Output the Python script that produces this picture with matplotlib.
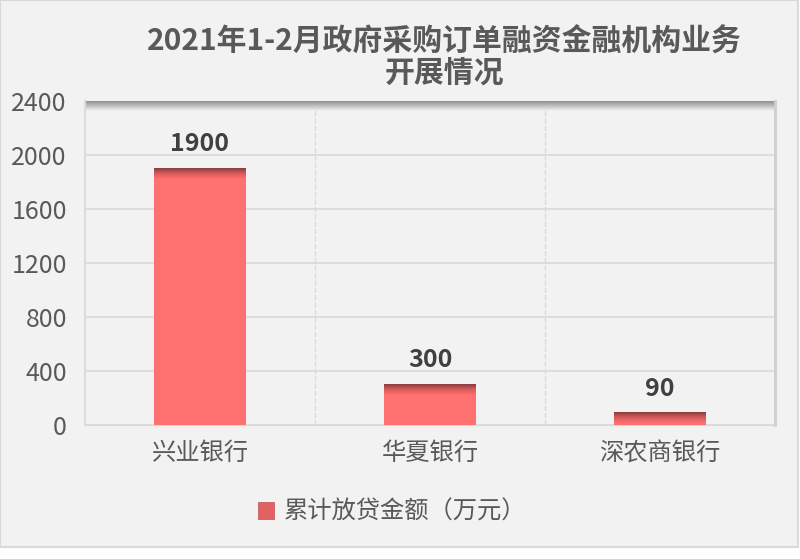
import numpy as np
import matplotlib.pyplot as plt
from matplotlib.patches import Rectangle
from matplotlib.colors import LinearSegmentedColormap

plt.rcParams['font.family'] = ['Noto Sans CJK SC', 'DejaVu Sans']

banks = ['兴业银行', '华夏银行', '深农商银行']
loans = [1900, 300, 90]
series_name = '累计放贷金额（万元）'
title = '2021年1-2月政府采购订单融资金融机构业务\n开展情况'

bg = '#f2f2f2'
bar_color = '#ff7070'
text_color = '#595959'

fig = plt.figure(figsize=(8, 5.59), dpi=100)
fig.patch.set_facecolor('white')
# chart frame
fig.patches.append(Rectangle((0, 12 / 559), 798 / 800, 547 / 559, transform=fig.transFigure,
                             facecolor=bg, edgecolor='#d9d9d9', linewidth=1.5, zorder=-1))

ax = fig.add_axes([85 / 800, 1 - 425 / 559, 690 / 800, 324 / 559])
ax.set_facecolor(bg)
x = np.arange(len(banks))
ax.set_xlim(-0.5, len(banks) - 0.5)
ax.set_ylim(0, 2400)

bars = ax.bar(x, loans, width=0.4, color=bar_color, zorder=3)

# darker shading at top of each bar (row 0 = bottom)
shade = LinearSegmentedColormap.from_list('shade', ['#8a3d3d', '#d85c5c', bar_color])
grad = np.linspace(1, 0, 50).reshape(-1, 1)
for xi, v in zip(x, loans):
    h = min(v, 75)
    ax.imshow(grad, cmap=shade, aspect='auto', extent=(xi - 0.2, xi + 0.2, v - h, v),
              zorder=4, origin='lower')
    ax.text(xi, v + 90, str(v), ha='center', va='bottom', fontsize=18,
            fontweight='bold', color='#404040', zorder=5)

# top inner shadow of the plot area
top_grad = LinearSegmentedColormap.from_list('top', ['#858585', '#bdbdbd', bg])
ax.imshow(grad, cmap=top_grad, aspect='auto', extent=(-0.5, len(banks) - 0.5, 2325, 2400),
          zorder=2, origin='lower')

ax.set_yticks(np.arange(0, 2401, 400))
ax.yaxis.grid(True, color='#d9d9d9', linewidth=1.2, zorder=1)
for sep in x[:-1] + 0.5:
    ax.axvline(sep, color='#d9d9d9', linestyle='--', linewidth=1, zorder=1)
ax.set_xticks(x)
ax.set_xticklabels(banks)
ax.tick_params(axis='both', length=0, colors=text_color)
ax.tick_params(axis='y', labelsize=18, pad=13)
ax.tick_params(axis='x', labelsize=17.5, pad=11)
ax.spines['top'].set_visible(False)
ax.spines['left'].set_color('#dcdcdc')
ax.spines['left'].set_linewidth(1.5)
ax.spines['bottom'].set_color('#d9d9d9')
ax.spines['right'].set_color('#cfcfcf')
ax.spines['right'].set_linewidth(2)

fig.text(444 / 800, 1 - 57 / 559, title, ha='center', va='center', fontsize=21.5,
         fontweight='bold', color=text_color, linespacing=1.05)

leg_handle = Rectangle((0, 0), 1, 1, facecolor='#e06262', edgecolor='#c05050', linewidth=0.5)
leg = fig.legend([leg_handle], [series_name], loc='center', bbox_to_anchor=(392 / 800, 1 - 512 / 559),
                 frameon=False, fontsize=17.5, handlelength=0.65, handleheight=0.75,
                 handletextpad=0.4)
for t in leg.get_texts():
    t.set_color(text_color)

fig.savefig('out.png', dpi=100, facecolor=fig.get_facecolor())
